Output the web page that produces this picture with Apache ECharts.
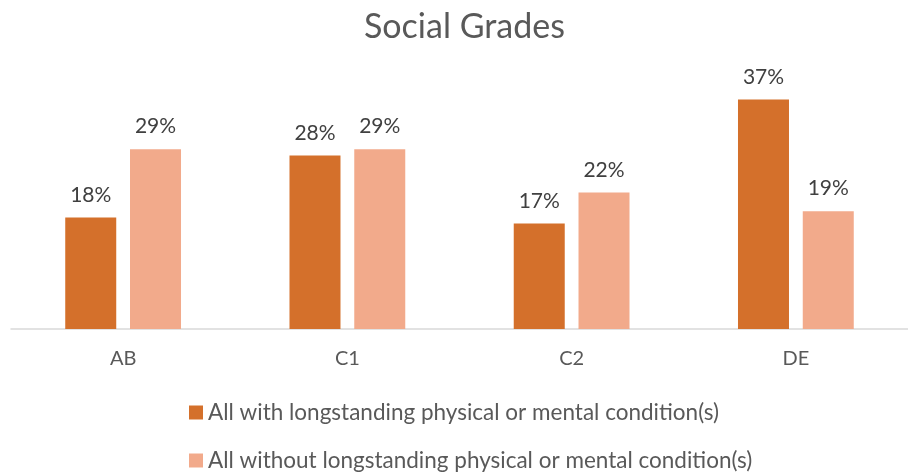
<!DOCTYPE html>
<html>
<head>
<meta charset="utf-8">
<script src="https://cdn.jsdelivr.net/npm/echarts@6/dist/echarts.min.js"></script>
<style>
  html, body { margin: 0; padding: 0; background: #fff; }
  #chart { width: 908px; height: 472px; }
</style>
</head>
<body>
<div id="chart"></div>
<script>
var categories = ['AB', 'C1', 'C2', 'DE']
var withCondition = [18, 28, 17, 37]
var withoutCondition = [29, 29, 22, 19]
var seriesNames = [
  'All with longstanding physical or mental condition(s)',
  'All without longstanding physical or mental condition(s)'
]

var font = 'Lato, "Open Sans", sans-serif'
var myChart = echarts.init(document.getElementById('chart'))

var labelStyle = {
  show: true,
  position: 'top',
  distance: 12,
  color: '#404040',
  fontSize: 21,
  fontFamily: font,
  formatter: function (p) { return p.value + '%' }
}

// one legend per row, so they stack like the original
var legendBase = {
  orient: 'vertical',
  left: 184,
  itemWidth: 14,
  itemHeight: 14,
  icon: 'rect',
  textStyle: { color: '#595959', fontSize: 22.5, fontFamily: font }
}

var option = {
  animation: false,
  title: {
    text: 'Social Grades',
    left: 359,
    top: 5,
    textStyle: { color: '#595959', fontSize: 34, fontWeight: 'normal', fontFamily: font }
  },
  legend: [
    Object.assign({}, legendBase, { top: 396, data: [seriesNames[0]] }),
    Object.assign({}, legendBase, { top: 444, data: [seriesNames[1]] })
  ],
  grid: {
    left: 11,
    right: 0,
    top: 81,
    bottom: 143,
    containLabel: false
  },
  xAxis: {
    type: 'category',
    data: categories,
    axisLine: { lineStyle: { color: '#d9d9d9', width: 1.5 } },
    axisTick: { show: false },
    axisLabel: { color: '#595959', fontSize: 20, fontFamily: font, margin: 20 }
  },
  yAxis: {
    type: 'value',
    min: 0,
    max: 40,
    show: false,
    splitLine: { show: false }
  },
  series: [
    {
      name: seriesNames[0],
      type: 'bar',
      barWidth: 51,
      barGap: '27%',
      itemStyle: { color: '#D4702B' },
      label: labelStyle,
      data: withCondition
    },
    {
      name: seriesNames[1],
      type: 'bar',
      barWidth: 51,
      itemStyle: { color: '#F2AA8B' },
      label: labelStyle,
      data: withoutCondition
    }
  ]
}
myChart.setOption(option)
</script>
</body>
</html>
